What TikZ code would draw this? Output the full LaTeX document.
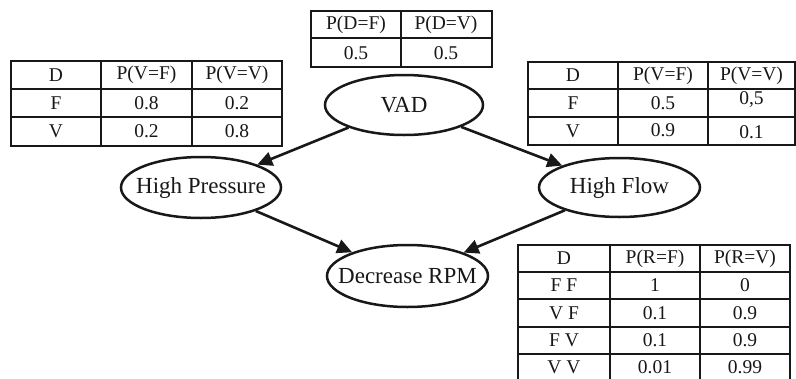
\documentclass[tikz,border=0pt]{standalone}
\usepackage{fontspec}
\setmainfont{Liberation Serif}
\usetikzlibrary{shapes.geometric,arrows.meta}
\definecolor{ink}{HTML}{181818}
\tikzset{
  grid/.style={draw=ink,line width=2.7pt},
  cell/.style={inner sep=0pt,text=ink,font=\fontsize{19.5}{23}\selectfont},
  var/.style={ellipse,draw=ink,line width=2.5pt,minimum width=160pt,minimum height=60pt,
    inner xsep=-16pt,inner ysep=0pt,text=ink,font=\fontsize{23}{26}\selectfont},
  dep/.style={draw=ink,line width=2.6pt,-{Triangle[length=15pt,width=14pt]}},
}
\begin{document}
\begin{tikzpicture}[x=1pt,y=-1pt]
\clip (0,0) rectangle (796,378);
\fill[white] (0,0) rectangle (796,378);

% prior table of D
\draw[grid] (311,11) rectangle (492,67) (311,38) -- (492,38) (401,11) -- (401,67);
\node[cell] (d1) at (356,25) {P(D=F)};
\node[cell] (d2) at (446,25) {P(D=V)};
\node[cell] (d3) at (356,53) {0.5};
\node[cell] (d4) at (446,53) {0.5};

% table of High Pressure
\draw[grid] (11,61) rectangle (282,146) (11,89) -- (282,89) (11,117) -- (282,117)
  (101,61) -- (101,146) (192,61) -- (192,146);
\node[cell] (p1) at (56,75) {D};
\node[cell] (p2) at (146.5,75) {P(V=F)};
\node[cell] (p3) at (237,75) {P(V=V)};
\node[cell] (p4) at (56,103) {F};
\node[cell] (p5) at (146.5,103) {0.8};
\node[cell] (p6) at (237,103) {0.2};
\node[cell] (p7) at (56,131.5) {V};
\node[cell] (p8) at (146.5,131.5) {0.2};
\node[cell] (p9) at (237,131.5) {0.8};

% table of High Flow
\draw[grid] (528,62) rectangle (795,145) (528,89) -- (795,89) (528,117) -- (795,117)
  (618,62) -- (618,145) (708,62) -- (708,145);
\node[cell] (f1) at (573,75.5) {D};
\node[cell] (f2) at (663,75.5) {P(V=F)};
\node[cell] (f3) at (751.5,75.5) {P(V=V)};
\node[cell] (f4) at (573,103) {F};
\node[cell] (f5) at (663,103) {0.5};
\node[cell] (f6) at (751.5,100) {0,5};
\node[cell] (f7) at (573,131) {V};
\node[cell] (f8) at (663,130) {0.9};
\node[cell] (f9) at (751.5,132.5) {0.1};

% table of Decrease RPM
\draw[grid] (518,245) rectangle (790,384) (518,272) -- (790,272) (518,299) -- (790,299)
  (518,327) -- (790,327) (518,354) -- (790,354)
  (610,245) -- (610,384) (700,245) -- (700,384);
\node[cell] (r1) at (564,258.5) {D};
\node[cell] (r2) at (655,258.5) {P(R=F)};
\node[cell] (r3) at (745,258.5) {P(R=V)};
\node[cell] (r4) at (564,285.5) {F F};
\node[cell] (r5) at (655,285.5) {1};
\node[cell] (r6) at (745,285.5) {0};
\node[cell] (r7) at (564,313) {V F};
\node[cell] (r8) at (655,313) {0.1};
\node[cell] (r9) at (745,313) {0.9};
\node[cell] (r10) at (564,340.5) {F V};
\node[cell] (r11) at (655,340.5) {0.1};
\node[cell] (r12) at (745,340.5) {0.9};
\node[cell] (r13) at (564,367) {V V};
\node[cell] (r14) at (655,367) {0.01};
\node[cell] (r15) at (745,367) {0.99};

% network
\node[var,minimum width=158pt] (vad) at (404,105) {VAD};
\node[var,minimum height=61pt] (hp) at (201,187.5) {High Pressure};
\node[var,minimum width=161pt,minimum height=59pt] (hf) at (619.5,187.5) {High Flow};
\node[var,minimum width=161pt,minimum height=62pt] (rpm) at (407.5,276) {Decrease RPM};

\draw[dep] (vad) -- (hp);
\draw[dep] (vad) -- (hf);
\draw[dep] (hp) -- (rpm);
\draw[dep] (hf) -- (rpm);
\end{tikzpicture}
\end{document}
